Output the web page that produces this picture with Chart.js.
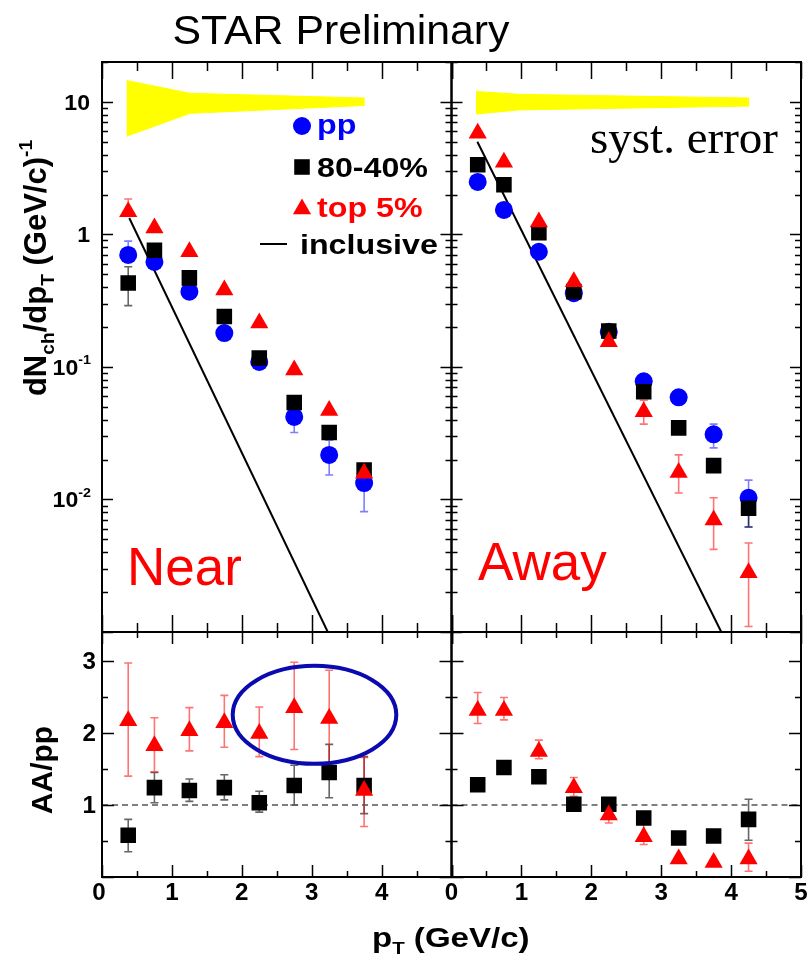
<!DOCTYPE html>
<html>
<head>
<meta charset="utf-8">
<script src="https://cdn.jsdelivr.net/npm/chart.js@4.4.1/dist/chart.umd.min.js"></script>
<style>
  html, body { margin: 0; padding: 0; background: #fff; }
  canvas { display: block; }
</style>
</head>
<body>
<canvas id="c" width="812" height="958"></canvas>
<script>
// pT bin centres (GeV/c)
const pT = [0.375, 0.75, 1.25, 1.75, 2.25, 2.75, 3.25, 3.75, 4.25];

// near side yields, dN/dpT
const nearPP    = [0.70, 0.62, 0.37, 0.18, 0.109, 0.042, 0.0217, 0.0133];
const nearPPLo  = [null, null, null, null, null, 0.032, 0.0153, 0.0081];
const nearPPHi  = [0.89, null, null, null, null, 0.052, 0.028, 0.017];
const nearPer   = [0.43, 0.76, 0.47, 0.24, 0.117, 0.054, 0.032, 0.0167];
const nearPerLo = [0.29, null, null, null, null, null, null, null];
const nearPerHi = [0.57, null, null, null, null, null, null, null];
const nearCen   = [1.48, 1.12, 0.74, 0.38, 0.215, 0.095, 0.047, 0.0158];
const nearCenLo = [null, null, null, null, null, null, null, null];
const nearCenHi = [1.85, null, null, null, null, null, null, null];

// away side yields
const awayPP    = [2.49, 1.53, 0.74, 0.36, 0.184, 0.078, 0.059, 0.031, 0.0103];
const awayPPLo  = [null, null, null, null, null, null, null, 0.0245, 0.0062];
const awayPPHi  = [null, null, null, null, null, null, null, 0.037, 0.014];
const awayPer   = [3.35, 2.37, 1.03, 0.37, 0.187, 0.065, 0.0347, 0.018, 0.0086];
const awayPerLo = [null, null, null, null, null, null, null, null, 0.0062];
const awayPerHi = [null, null, null, null, null, null, null, null, 0.0105];
const awayCen   = [5.8, 3.5, 1.24, 0.44, 0.155, 0.046, 0.016, 0.0070, 0.0028];
const awayCenLo = [null, null, null, null, null, 0.037, 0.0112, 0.0042, 0.0011];
const awayCenHi = [null, null, null, null, null, 0.056, 0.0217, 0.0103, 0.0047];

// inclusive spectra (straight lines on log scale)
const inclNearX = [0.39, 3.23];
const inclNearY = [1.33, 0.001];
const inclAwayX = [0.37, 3.86];
const inclAwayY = [5.0, 0.001];

// systematic error bands drawn around 10
const nearBandX  = [0.35, 1.26, 3.76];
const nearBandHi = [14.5, 11.6, 10.7];
const nearBandLo = [5.5, 8.2, 9.4];
const awayBandX  = [0.35, 0.97, 4.26];
const awayBandHi = [12.0, 11.4, 10.7];
const awayBandLo = [8.1, 8.7, 9.3];

// AA/pp ratios
const rNearPer   = [0.58, 1.24, 1.20, 1.24, 1.03, 1.27, 1.45, 1.27];
const rNearPerLo = [0.35, 1.03, 1.05, 1.07, 0.90, 1.00, 1.10, 0.88];
const rNearPerHi = [0.80, 1.45, 1.36, 1.42, 1.19, 1.55, 1.84, 1.67];
const rNearCen   = [2.17, 1.82, 2.03, 2.14, 1.99, 2.35, 2.20, 1.20];
const rNearCenLo = [1.40, 1.46, 1.75, 1.80, 1.67, 1.77, 1.50, 0.70];
const rNearCenHi = [2.97, 2.21, 2.35, 2.52, 2.36, 2.98, 2.87, 1.66];
const rAwayPer   = [1.28, 1.52, 1.39, 1.01, 1.01, 0.82, 0.54, 0.57, 0.80];
const rAwayPerLo = [null, null, null, null, null, null, null, 0.52, 0.51];
const rAwayPerHi = [null, null, null, null, null, null, null, 0.62, 1.08];
const rAwayCen   = [2.31, 2.31, 1.74, 1.24, 0.86, 0.56, 0.25, 0.20, 0.25];
const rAwayCenLo = [2.13, 2.18, 1.64, 1.12, 0.75, 0.45, null, null, 0.08];
const rAwayCenHi = [2.56, 2.49, 1.90, 1.38, 0.99, 0.74, null, null, 0.47];
const refX = [0, 5];
const refY = [1, 1];

// ellipse round the high pT near side points (centre, half axes in data units)
const ellipseC = [3.04, 2.25];
const ellipseR = [1.17, 0.68];

// tick labels
const xTicksNear = ['0', '1', '2', '3', '4'];
const xTicksAway = ['0', '1', '2', '3', '4', '5'];
const logTickVals = [10, 1, 0.1, 0.01];
const logTickLabels = ['10', '1', '10^-1', '10^-2'];
const ratioTickVals = [1, 2, 3];
const ratioTickLabels = ['1', '2', '3'];

const legendLabels = ['pp', '80-40%', 'top 5%', 'inclusive'];

const BLUE = '#0000ff', RED = '#ff0000', BLACK = '#000000';

const pts = (xs, ys) => ys.map((y, i) => ({x: xs[i], y: y}));

function markers(ys, style, color, r, xa, ya) {
  return {
    data: pts(pT, ys), xAxisID: xa, yAxisID: ya, showLine: false,
    pointStyle: style, pointRadius: r, pointBackgroundColor: color,
    pointBorderWidth: 0, borderColor: color, backgroundColor: color
  };
}
function line(xs, ys, xa, ya, extra) {
  return Object.assign({
    data: pts(xs, ys), xAxisID: xa, yAxisID: ya, showLine: true,
    pointRadius: 0, borderColor: BLACK, borderWidth: 2, fill: false
  }, extra || {});
}

const datasets = [
  // drawn last -> on top
  markers(nearCen, 'triangle', RED, 10.5, 'xNear', 'yTop'),
  markers(nearPer, 'rect', BLACK, 11, 'xNear', 'yTop'),
  markers(nearPP, 'circle', BLUE, 9, 'xNear', 'yTop'),
  markers(awayCen, 'triangle', RED, 10.5, 'xAway', 'yTop'),
  markers(awayPer, 'rect', BLACK, 11, 'xAway', 'yTop'),
  markers(awayPP, 'circle', BLUE, 9, 'xAway', 'yTop'),
  markers(rNearCen, 'triangle', RED, 10.5, 'xNear', 'yRatio'),
  markers(rNearPer, 'rect', BLACK, 11, 'xNear', 'yRatio'),
  markers(rAwayCen, 'triangle', RED, 10.5, 'xAway', 'yRatio'),
  markers(rAwayPer, 'rect', BLACK, 11, 'xAway', 'yRatio'),
  line(inclNearX, inclNearY, 'xNear', 'yTop'),
  line(inclAwayX, inclAwayY, 'xAway', 'yTop'),
  line(refX, refY, 'xNear', 'yRatio', {borderColor: '#555', borderWidth: 1.5, borderDash: [6, 4]}),
  line(refX, refY, 'xAway', 'yRatio', {borderColor: '#555', borderWidth: 1.5, borderDash: [6, 4]}),
  line(nearBandX, nearBandHi, 'xNear', 'yTop', {fill: '+1', backgroundColor: '#ffff00', borderColor: '#ffff00', borderWidth: 1}),
  line(nearBandX, nearBandLo, 'xNear', 'yTop', {borderColor: '#ffff00', borderWidth: 1}),
  line(awayBandX, awayBandHi, 'xAway', 'yTop', {fill: '+1', backgroundColor: '#ffff00', borderColor: '#ffff00', borderWidth: 1}),
  line(awayBandX, awayBandLo, 'xAway', 'yTop', {borderColor: '#ffff00', borderWidth: 1})
];

const errorSets = [
  {x: 'xNear', y: 'yTop', val: nearPP, lo: nearPPLo, hi: nearPPHi, color: 'rgba(40,40,255,0.6)'},
  {x: 'xNear', y: 'yTop', val: nearPer, lo: nearPerLo, hi: nearPerHi, color: 'rgba(0,0,0,0.6)'},
  {x: 'xNear', y: 'yTop', val: nearCen, lo: nearCenLo, hi: nearCenHi, color: 'rgba(255,0,0,0.55)'},
  {x: 'xAway', y: 'yTop', val: awayPP, lo: awayPPLo, hi: awayPPHi, color: 'rgba(40,40,255,0.6)'},
  {x: 'xAway', y: 'yTop', val: awayPer, lo: awayPerLo, hi: awayPerHi, color: 'rgba(0,0,0,0.6)'},
  {x: 'xAway', y: 'yTop', val: awayCen, lo: awayCenLo, hi: awayCenHi, color: 'rgba(255,0,0,0.55)'},
  {x: 'xNear', y: 'yRatio', val: rNearPer, lo: rNearPerLo, hi: rNearPerHi, color: 'rgba(0,0,0,0.6)'},
  {x: 'xNear', y: 'yRatio', val: rNearCen, lo: rNearCenLo, hi: rNearCenHi, color: 'rgba(255,0,0,0.55)'},
  {x: 'xAway', y: 'yRatio', val: rAwayPer, lo: rAwayPerLo, hi: rAwayPerHi, color: 'rgba(0,0,0,0.6)'},
  {x: 'xAway', y: 'yRatio', val: rAwayCen, lo: rAwayCenLo, hi: rAwayCenHi, color: 'rgba(255,0,0,0.55)'}
];

const panels = [
  {x: 'xNear', y: 'yTop', log: true},
  {x: 'xAway', y: 'yTop', log: true},
  {x: 'xNear', y: 'yRatio', log: false},
  {x: 'xAway', y: 'yRatio', log: false}
];

const SANS = '"Liberation Sans", Arial, Helvetica, sans-serif';

function txt(ctx, s, x, y, o) {
  o = o || {};
  ctx.save();
  ctx.translate(x, y);
  if (o.rot) ctx.rotate(o.rot);
  ctx.scale(o.sx || 1, 1);
  ctx.font = (o.weight || 'bold') + ' ' + (o.size || 22) + 'px ' + (o.family || SANS);
  ctx.fillStyle = o.color || BLACK;
  ctx.textAlign = o.align || 'left';
  ctx.textBaseline = 'alphabetic';
  ctx.fillText(s, 0, 0);
  ctx.restore();
}

// runs: [text, relative size, baseline shift in em (positive = down)]
function richTxt(ctx, runs, x, y, size, o) {
  o = o || {};
  ctx.save();
  ctx.translate(x, y);
  if (o.rot) ctx.rotate(o.rot);
  ctx.scale(o.sx || 1, 1);
  let w = 0;
  runs.forEach(r => { ctx.font = 'bold ' + (size * r[1]) + 'px ' + SANS; w += ctx.measureText(r[0]).width; });
  let cx = o.align === 'center' ? -w / 2 : (o.align === 'right' ? -w : 0);
  ctx.fillStyle = o.color || BLACK;
  ctx.textBaseline = 'alphabetic';
  ctx.textAlign = 'left';
  runs.forEach(r => {
    ctx.font = 'bold ' + (size * r[1]) + 'px ' + SANS;
    ctx.fillText(r[0], cx, r[2] * size);
    cx += ctx.measureText(r[0]).width;
  });
  ctx.restore();
}

function shape(ctx, style, x, y, r, color) {
  ctx.fillStyle = color;
  ctx.beginPath();
  if (style === 'circle') {
    ctx.arc(x, y, r, 0, Math.PI * 2);
  } else if (style === 'rect') {
    const h = r * Math.SQRT1_2;
    ctx.rect(x - h, y - h, 2 * h, 2 * h);
  } else {
    ctx.moveTo(x, y - r);
    ctx.lineTo(x + r * 0.866, y + r / 2);
    ctx.lineTo(x - r * 0.866, y + r / 2);
    ctx.closePath();
  }
  ctx.fill();
}

const deco = {
  id: 'deco',
  beforeDatasetsDraw(chart) {
    const ctx = chart.ctx;
    errorSets.forEach(s => {
      const xs = chart.scales[s.x], ys = chart.scales[s.y];
      ctx.save();
      ctx.beginPath();
      ctx.rect(xs.left, ys.top, xs.right - xs.left, ys.bottom - ys.top);
      ctx.clip();
      ctx.strokeStyle = s.color;
      ctx.lineWidth = 1.6;
      s.val.forEach((v, i) => {
        const lo = s.lo[i], hi = s.hi[i];
        if (lo == null && hi == null) return;
        const px = xs.getPixelForValue(pT[i]);
        const py = ys.getPixelForValue(v);
        const a = hi != null ? ys.getPixelForValue(hi) : py;
        const b = lo != null ? ys.getPixelForValue(lo) : py;
        ctx.beginPath();
        ctx.moveTo(px, a); ctx.lineTo(px, b);
        if (hi != null) { ctx.moveTo(px - 4, a); ctx.lineTo(px + 4, a); }
        if (lo != null) { ctx.moveTo(px - 4, b); ctx.lineTo(px + 4, b); }
        ctx.stroke();
      });
      ctx.restore();
    });
  },
  afterDatasetsDraw(chart) {
    const ctx = chart.ctx;
    // ellipse
    const ex = chart.scales.xNear, ey = chart.scales.yRatio;
    const cx = ex.getPixelForValue(ellipseC[0]), cy = ey.getPixelForValue(ellipseC[1]);
    const rx = ex.getPixelForValue(ellipseC[0] + ellipseR[0]) - cx;
    const ry = cy - ey.getPixelForValue(ellipseC[1] + ellipseR[1]);
    ctx.save();
    ctx.strokeStyle = '#0a0ab0';
    ctx.lineWidth = 4;
    ctx.beginPath();
    ctx.ellipse(cx, cy, rx, ry, 0, 0, Math.PI * 2);
    ctx.stroke();
    ctx.restore();

    // frames and inward ticks
    ctx.save();
    ctx.strokeStyle = BLACK;
    panels.forEach(p => {
      const xs = chart.scales[p.x], ys = chart.scales[p.y];
      const L = xs.left, R = xs.right, T = ys.top, B = ys.bottom;
      ctx.lineWidth = 1.5;
      ctx.beginPath();
      for (let v = 0; v <= 5.001; v += 0.5) {
        const px = Math.round(xs.getPixelForValue(v)) + 0.5;
        const major = Math.abs(v - Math.round(v)) < 1e-6;
        const len = p.log ? (major ? 17 : 9) : (major ? 12 : 6);
        ctx.moveTo(px, B); ctx.lineTo(px, B - len);
        ctx.moveTo(px, T); ctx.lineTo(px, T + len);
      }
      const yv = [];
      if (p.log) {
        for (let e = -3; e <= 1; e++) {
          for (let k = 1; k <= 9; k++) {
            const v = k * Math.pow(10, e);
            if (v <= ys.max * 1.0001) yv.push([v, k === 1]);
          }
        }
      } else {
        for (let v = 0; v <= ys.max; v += 0.5) yv.push([v, Math.abs(v - Math.round(v)) < 1e-6]);
      }
      yv.forEach(([v, major]) => {
        const py = Math.round(ys.getPixelForValue(v)) + 0.5;
        const len = p.log ? (major ? 11 : 6) : (major ? 12 : 6);
        ctx.moveTo(L, py); ctx.lineTo(L + len, py);
        ctx.moveTo(R, py); ctx.lineTo(R - len, py);
      });
      ctx.stroke();
      ctx.lineWidth = 2;
      ctx.strokeRect(L, T, R - L, B - T);
    });
    ctx.restore();
  },
  afterDraw(chart) {
    const ctx = chart.ctx;
    const xn = chart.scales.xNear, xa = chart.scales.xAway;
    const yt = chart.scales.yTop, yr = chart.scales.yRatio;

    // y tick labels, log panel
    logTickLabels.forEach((lab, i) => {
      const py = yt.getPixelForValue(logTickVals[i]) + 8;
      const parts = lab.split('^');
      if (parts.length > 1) {
        richTxt(ctx, [[parts[0], 1, 0], [parts[1], 0.62, -0.48]], xn.left - 11, py, 22, {align: 'right', sx: 1.05});
      } else {
        txt(ctx, lab, xn.left - 12, py, {size: 22, align: 'right', sx: 1.05});
      }
    });
    // y tick labels, ratio panel
    ratioTickLabels.forEach((lab, i) => {
      txt(ctx, lab, xn.left - 6, yr.getPixelForValue(ratioTickVals[i]) + 8, {size: 23, align: 'right', sx: 1.05});
    });
    // x tick labels
    xTicksNear.forEach((lab, i) => {
      txt(ctx, lab, xn.getPixelForValue(i) - (i === 0 ? 3 : 0), yr.bottom + 23, {size: 23, align: 'center', sx: 1.05});
    });
    xTicksAway.forEach((lab, i) => {
      txt(ctx, lab, xa.getPixelForValue(i), yr.bottom + 23, {size: 23, align: 'center', sx: 1.05});
    });

    // axis titles
    richTxt(ctx, [['dN', 1, 0], ['ch', 0.62, 0.25], ['/dp', 1, 0], ['T', 0.62, 0.25], [' (GeV/c)', 1, 0], ['-1', 0.62, -0.45]],
      46, 268, 31, {align: 'center', rot: -Math.PI / 2});
    txt(ctx, 'AA/pp', 52, 770, {size: 30, align: 'center', rot: -Math.PI / 2});
    richTxt(ctx, [['p', 1, 0], ['T', 0.62, 0.25], [' (GeV/c)', 1, 0]], 372, 947, 28, {sx: 1.18});

    // title and panel labels
    txt(ctx, 'STAR Preliminary', 341, 44, {size: 40, weight: 'normal', align: 'center', sx: 1.07});
    txt(ctx, 'Near', 127, 585, {size: 53, weight: 'normal', color: RED});
    txt(ctx, 'Away', 478, 580, {size: 53, weight: 'normal', color: RED});
    txt(ctx, 'syst. error', 590, 153, {size: 47, weight: 'normal', family: '"Liberation Serif", "Times New Roman", serif'});

    // legend
    const lx = 302, lt = [126, 167, 207, 244];
    shape(ctx, 'circle', lx, lt[0], 9, BLUE);
    shape(ctx, 'rect', lx, lt[1], 11, BLACK);
    shape(ctx, 'triangle', lx, lt[2] + 2, 10.5, RED);
    ctx.save();
    ctx.strokeStyle = BLACK; ctx.lineWidth = 2;
    ctx.beginPath(); ctx.moveTo(260, lt[3]); ctx.lineTo(287, lt[3]); ctx.stroke();
    ctx.restore();
    const lcol = [BLUE, BLACK, RED, BLACK];
    const lxTxt = [317, 317, 317, 300];
    const lbase = [134, 177, 217, 254];
    legendLabels.forEach((lab, i) => {
      txt(ctx, lab, lxTxt[i], lbase[i], {size: 28, color: lcol[i], sx: 1.15});
    });
  }
};

new Chart(document.getElementById('c'), {
  type: 'line',
  data: {datasets: datasets},
  options: {
    responsive: false,
    animation: false,
    devicePixelRatio: 1,
    events: [],
    layout: {padding: {left: 102, right: 10, top: 62, bottom: 81}},
    plugins: {legend: {display: false}, tooltip: {enabled: false}},
    scales: {
      xNear: {type: 'linear', position: 'bottom', stack: 'px', stackWeight: 1, min: 0, max: 5, display: false},
      xAway: {type: 'linear', position: 'bottom', stack: 'px', stackWeight: 1, min: 0, max: 5, display: false},
      yTop: {type: 'logarithmic', position: 'right', stack: 'py', stackWeight: 570, min: 0.001, max: 20, display: false},
      yRatio: {type: 'linear', position: 'right', stack: 'py', stackWeight: 245, min: 0, max: 3.4, display: false}
    }
  },
  plugins: [deco]
});
</script>
</body>
</html>
